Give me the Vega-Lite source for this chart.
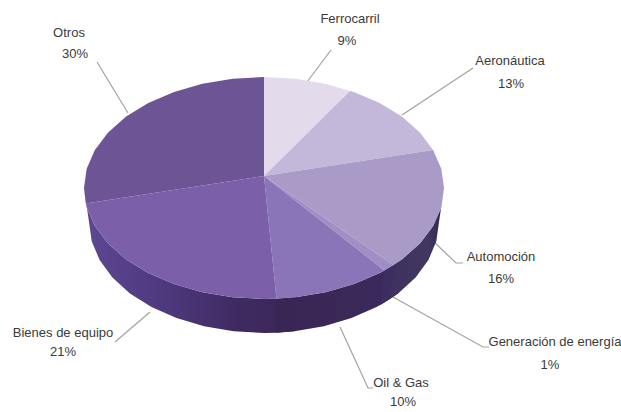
{
  "$schema": "https://vega.github.io/schema/vega-lite/v6.json",
  "width": 621,
  "height": 412,
  "padding": 0,
  "autosize": {"type": "none"},
  "background": "white",
  "view": {"stroke": null},
  "projection": {"type": "identity", "reflectY": true, "scale": 1, "translate": [264, 176]},
  "datasets": {
    "walls": [
      {"type": "Feature", "properties": {"sector": "Automoción"}, "geometry": {"type": "Polygon", "coordinates": [[[180,-12],[177.3,-31.3],[169.1,-50],[155.9,-67.5],[137.9,-83.4],[129.5,-89.1],[125.9,-123.1],[134.1,-117.4],[151.6,-101.5],[164.4,-84],[172.3,-65.3],[175,-46],[180,-12]]]}},
      {"type": "Feature", "properties": {"sector": "Generación de energía"}, "geometry": {"type": "Polygon", "coordinates": [[[137.9,-83.4],[129.5,-89.1],[120.4,-94.5],[117.1,-128.5],[125.9,-123.1],[134.1,-117.4],[137.9,-83.4]]]}},
      {"type": "Feature", "properties": {"sector": "Oil & Gas"}, "geometry": {"type": "Polygon", "coordinates": [[[129.5,-89.1],[120.4,-94.5],[115.7,-97],[90,-108.1],[61.6,-116.3],[31.3,-121.3],[12.5,-122.7],[12.2,-156.7],[30.4,-155.3],[59.9,-150.3],[87.5,-142.1],[112.5,-131],[117.1,-128.5],[125.9,-123.1],[129.5,-89.1]]]}},
      {"type": "Feature", "properties": {"sector": "Bienes de equipo"}, "geometry": {"type": "Polygon", "coordinates": [[[31.3,-121.3],[12.5,-122.7],[0,-123],[-31.3,-121.3],[-61.6,-116.3],[-90,-108.1],[-115.7,-97],[-137.9,-83.4],[-155.9,-67.5],[-169.1,-50],[-177.3,-31.3],[-180,-12],[-175,-46],[-172.3,-65.3],[-164.4,-84],[-151.6,-101.5],[-134.1,-117.4],[-112.5,-131],[-87.5,-142.1],[-59.9,-150.3],[-30.4,-155.3],[0,-157],[12.2,-156.7],[30.4,-155.3],[31.3,-121.3]]]}}
    ],
    "faces": [
      {"type": "Feature", "properties": {"sector": "Ferrocarril", "share": 0.09}, "geometry": {"type": "Polygon", "coordinates": [[[0,0],[0,99],[31.3,97.3],[61.6,92.3],[86,85],[0,0]]]}},
      {"type": "Feature", "properties": {"sector": "Aeronáutica", "share": 0.13}, "geometry": {"type": "Polygon", "coordinates": [[[0,0],[86,85],[90,84.1],[115.7,73],[137.9,59.4],[155.9,43.5],[169.1,26],[0,0]]]}},
      {"type": "Feature", "properties": {"sector": "Automoción", "share": 0.16}, "geometry": {"type": "Polygon", "coordinates": [[[0,0],[169.1,26],[177.3,7.3],[180,-12],[177.3,-31.3],[169.1,-50],[155.9,-67.5],[137.9,-83.4],[129.5,-89.1],[0,0]]]}},
      {"type": "Feature", "properties": {"sector": "Generación de energía", "share": 0.01}, "geometry": {"type": "Polygon", "coordinates": [[[0,0],[129.5,-89.1],[120.4,-94.5],[0,0]]]}},
      {"type": "Feature", "properties": {"sector": "Oil & Gas", "share": 0.10}, "geometry": {"type": "Polygon", "coordinates": [[[0,0],[120.4,-94.5],[115.7,-97],[90,-108.1],[61.6,-116.3],[31.3,-121.3],[12.5,-122.7],[0,0]]]}},
      {"type": "Feature", "properties": {"sector": "Bienes de equipo", "share": 0.21}, "geometry": {"type": "Polygon", "coordinates": [[[0,0],[12.5,-122.7],[0,-123],[-31.3,-121.3],[-61.6,-116.3],[-90,-108.1],[-115.7,-97],[-137.9,-83.4],[-155.9,-67.5],[-169.1,-50],[-177.3,-31.3],[-178.2,-27.5],[0,0]]]}},
      {"type": "Feature", "properties": {"sector": "Otros", "share": 0.30}, "geometry": {"type": "Polygon", "coordinates": [[[0,0],[-178.2,-27.5],[-180,-12],[-177.3,7.3],[-169.1,26],[-155.9,43.5],[-137.9,59.4],[-115.7,73],[-90,84.1],[-61.6,92.3],[-31.3,97.3],[0,99],[0,0]]]}}
    ],
    "leaders": [
      {"type": "Feature", "properties": {"sector": "Ferrocarril"}, "geometry": {"type": "LineString", "coordinates": [[43,94],[67,126]]}},
      {"type": "Feature", "properties": {"sector": "Aeronáutica"}, "geometry": {"type": "LineString", "coordinates": [[138,61],[209,108]]}},
      {"type": "Feature", "properties": {"sector": "Otros"}, "geometry": {"type": "LineString", "coordinates": [[-136,63],[-167,114]]}},
      {"type": "Feature", "properties": {"sector": "Automoción"}, "geometry": {"type": "LineString", "coordinates": [[168,-64],[192,-87],[199,-87]]}},
      {"type": "Feature", "properties": {"sector": "Generación de energía"}, "geometry": {"type": "LineString", "coordinates": [[129,-121],[219,-171],[225,-171]]}},
      {"type": "Feature", "properties": {"sector": "Oil & Gas"}, "geometry": {"type": "LineString", "coordinates": [[76,-151],[104,-212],[109,-212]]}},
      {"type": "Feature", "properties": {"sector": "Bienes de equipo"}, "geometry": {"type": "LineString", "coordinates": [[-114,-136],[-149,-166]]}}
    ],
    "labels": [
      {"sector": "Ferrocarril", "share": 0.09, "nameLon": 86, "nameLat": 157, "pctLon": 83, "pctLat": 135},
      {"sector": "Aeronáutica", "share": 0.13, "nameLon": 246, "nameLat": 115, "pctLon": 247, "pctLat": 92},
      {"sector": "Automoción", "share": 0.16, "nameLon": 237, "nameLat": -81, "pctLon": 237, "pctLat": -103},
      {"sector": "Generación de energía", "share": 0.01, "nameLon": 291, "nameLat": -166, "pctLon": 286, "pctLat": -189},
      {"sector": "Oil & Gas", "share": 0.10, "nameLon": 137, "nameLat": -207, "pctLon": 139, "pctLat": -226},
      {"sector": "Bienes de equipo", "share": 0.21, "nameLon": -201, "nameLat": -157, "pctLon": -201, "pctLat": -176},
      {"sector": "Otros", "share": 0.30, "nameLon": -195, "nameLat": 143, "pctLon": -189, "pctLat": 122}
    ]
  },
  "layer": [
    {
      "data": {"name": "leaders"},
      "mark": {"type": "geoshape", "filled": false, "stroke": "#a3a39c", "strokeWidth": 1.2}
    },
    {
      "data": {"name": "walls"},
      "transform": [{"filter": "datum.properties.sector === 'Bienes de equipo'"}],
      "mark": {"type": "geoshape", "strokeWidth": 0, "fill": {"gradient": "linear", "x1": 0, "y1": 0, "x2": 1, "y2": 0, "stops": [{"offset": 0, "color": "#5d4892"}, {"offset": 0.35, "color": "#4f3a80"}, {"offset": 0.75, "color": "#3e2a5f"}, {"offset": 1, "color": "#3a2655"}]}}
    },
    {
      "data": {"name": "walls"},
      "transform": [{"filter": "datum.properties.sector === 'Oil & Gas'"}],
      "mark": {"type": "geoshape", "strokeWidth": 0, "fill": {"gradient": "linear", "x1": 0, "y1": 0, "x2": 1, "y2": 0, "stops": [{"offset": 0, "color": "#3a2655"}, {"offset": 1, "color": "#3a2a5c"}]}}
    },
    {
      "data": {"name": "walls"},
      "transform": [{"filter": "datum.properties.sector === 'Generación de energía'"}],
      "mark": {"type": "geoshape", "strokeWidth": 0, "fill": "#3c2e5e"}
    },
    {
      "data": {"name": "walls"},
      "transform": [{"filter": "datum.properties.sector === 'Automoción'"}],
      "mark": {"type": "geoshape", "strokeWidth": 0, "fill": {"gradient": "linear", "x1": 0, "y1": 0, "x2": 1, "y2": 0, "stops": [{"offset": 0, "color": "#3e315e"}, {"offset": 0.7, "color": "#423663"}, {"offset": 1, "color": "#2e2747"}]}}
    },
    {
      "data": {"name": "faces"},
      "mark": {"type": "geoshape", "strokeWidth": 0.5},
      "encoding": {
        "color": {
          "field": "properties.sector",
          "type": "nominal",
          "legend": null,
          "scale": {
            "domain": ["Ferrocarril", "Aeronáutica", "Automoción", "Generación de energía", "Oil & Gas", "Bienes de equipo", "Otros"],
            "range": ["#e3dbec", "#c4b8da", "#aa9ac8", "#a08ec5", "#8a75b9", "#7b60a9", "#6d5595"]
          }
        }
      }
    },
    {
      "data": {"name": "labels"},
      "mark": {"type": "text", "font": "Liberation Sans", "fontSize": 13, "color": "#3a3a3a", "align": "center", "baseline": "middle"},
      "encoding": {
        "longitude": {"field": "nameLon", "type": "quantitative"},
        "latitude": {"field": "nameLat", "type": "quantitative"},
        "text": {"field": "sector", "type": "nominal"}
      }
    },
    {
      "data": {"name": "labels"},
      "mark": {"type": "text", "font": "Liberation Sans", "fontSize": 13, "color": "#3a3a3a", "align": "center", "baseline": "middle"},
      "encoding": {
        "longitude": {"field": "pctLon", "type": "quantitative"},
        "latitude": {"field": "pctLat", "type": "quantitative"},
        "text": {"field": "share", "type": "quantitative", "format": ".0%"}
      }
    }
  ]
}
